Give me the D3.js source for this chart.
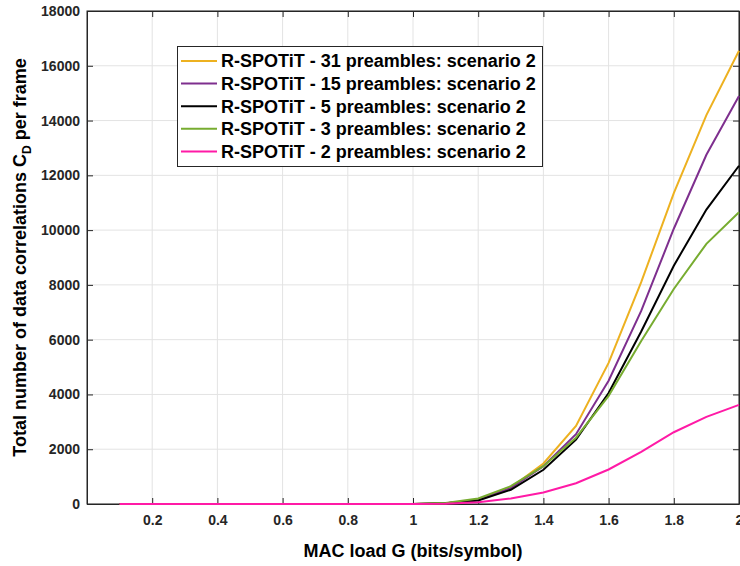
<!DOCTYPE html>
<html><head><meta charset="utf-8">
<script src="https://cdn.jsdelivr.net/npm/d3@7"></script>
<style>
body{margin:0;background:#fff;}
text{font-family:"Liberation Sans",Arial,sans-serif;}
</style></head>
<body><svg id="c" width="740" height="566"></svg>
<script>
const xValues = [0.1,0.2,0.3,0.4,0.5,0.6,0.7,0.8,0.9,1.0,1.1,1.2,1.3,1.4,1.5,1.6,1.7,1.8,1.9,2.0];
const p31 = [0,0,0,0,0,0,0,0,0,0,30,150,600,1480,2850,5150,8100,11350,14200,16550];
const p15 = [0,0,0,0,0,0,0,0,0,0,30,150,580,1380,2550,4500,7050,10050,12750,14900];
const p5  = [0,0,0,0,0,0,0,0,0,0,30,130,520,1250,2350,4050,6300,8700,10750,12350];
const p3  = [0,0,0,0,0,0,0,0,0,0,40,200,650,1380,2420,3950,5950,7850,9500,10650];
const p2  = [0,0,0,0,0,0,0,0,0,0,10,60,200,420,760,1260,1900,2620,3180,3620];
const seriesNames = ["R-SPOTiT - 31 preambles: scenario 2","R-SPOTiT - 15 preambles: scenario 2","R-SPOTiT - 5 preambles: scenario 2","R-SPOTiT - 3 preambles: scenario 2","R-SPOTiT - 2 preambles: scenario 2"];
const seriesColors = ["#EDB120","#7E2F8E","#000000","#77AC30","#FF1AA6"];
const seriesData = [p31,p15,p5,p3,p2];
const xTicks = [0.2,0.4,0.6,0.8,1,1.2,1.4,1.6,1.8,2];
const yTicks = [0,2000,4000,6000,8000,10000,12000,14000,16000,18000];

const svg = d3.select("#c");
const L=87, R=739, T=11, B=504;
const x = d3.scaleLinear().domain([0,2]).range([L,R]);
const y = d3.scaleLinear().domain([0,18000]).range([B,T]);
const axisCol="#262626";

const g = svg.append("g");
g.selectAll(".gx").data(xTicks).join("line").attr("x1",d=>x(d)).attr("x2",d=>x(d)).attr("y1",T).attr("y2",B).attr("stroke","#e3e3e3").attr("stroke-width",1);
g.selectAll(".gy").data(yTicks).join("line").attr("y1",d=>y(d)).attr("y2",d=>y(d)).attr("x1",L).attr("x2",R).attr("stroke","#e3e3e3").attr("stroke-width",1);

const xa = svg.append("g").attr("transform",`translate(0,${B})`).call(d3.axisBottom(x).tickValues(xTicks).tickSizeInner(-6).tickSizeOuter(0).tickFormat(d3.format("")));
const xt = svg.append("g").attr("transform",`translate(0,${T})`).call(d3.axisTop(x).tickValues(xTicks).tickSizeInner(-6).tickSizeOuter(0).tickFormat(""));
const ya = svg.append("g").attr("transform",`translate(${L},0)`).call(d3.axisLeft(y).tickValues(yTicks).tickSizeInner(-6).tickSizeOuter(0).tickFormat(d3.format("d")));
const yr = svg.append("g").attr("transform",`translate(${R},0)`).call(d3.axisRight(y).tickValues(yTicks).tickSizeInner(-6).tickSizeOuter(0).tickFormat(""));
[xa,xt,ya,yr].forEach(a=>{a.selectAll("path").attr("stroke",axisCol).attr("stroke-width",1);a.selectAll("line").attr("stroke",axisCol);});
xa.selectAll("text").attr("dy","1.25em").attr("font-size","14px").attr("font-weight","bold").attr("fill",axisCol);
ya.selectAll("text").attr("x",-7).attr("font-size","14px").attr("font-weight","bold").attr("fill",axisCol);
svg.append("rect").attr("x",L).attr("y",T).attr("width",R-L).attr("height",B-T).attr("fill","none").attr("stroke",axisCol).attr("stroke-width",1);

const line = d3.line().x((d,i)=>x(xValues[i])).y(d=>y(d));
seriesData.forEach((s,k)=>{
  svg.append("path").datum(s).attr("d",line).attr("fill","none").attr("stroke",seriesColors[k]).attr("stroke-width",2);
});

const lg = svg.append("g");
lg.append("rect").attr("x",177.5).attr("y",46.5).attr("width",365).attr("height",120).attr("fill","#fff").attr("stroke",axisCol).attr("stroke-width",1);
seriesNames.forEach((n,k)=>{
  const cy = 61 + k*22.6;
  lg.append("line").attr("x1",181).attr("x2",217).attr("y1",cy).attr("y2",cy).attr("stroke",seriesColors[k]).attr("stroke-width",2);
  lg.append("text").attr("x",221).attr("y",cy).attr("dy","0.36em").attr("font-size","18px").attr("font-weight","bold").attr("fill","#000").text(n);
});

svg.append("text").attr("x",(L+R)/2).attr("y",557).attr("text-anchor","middle").attr("font-size","18px").attr("font-weight","bold").attr("fill","#000").text("MAC load G (bits/symbol)");
const yt = svg.append("text").attr("transform",`translate(26,${(T+B)/2}) rotate(-90)`).attr("text-anchor","middle").attr("font-size","18px").attr("font-weight","bold").attr("fill","#000");
yt.append("tspan").text("Total number of data correlations C");
yt.append("tspan").attr("font-size","12px").attr("dy","5").text("D");
yt.append("tspan").attr("dy","-5").text(" per frame");
</script></body></html>
